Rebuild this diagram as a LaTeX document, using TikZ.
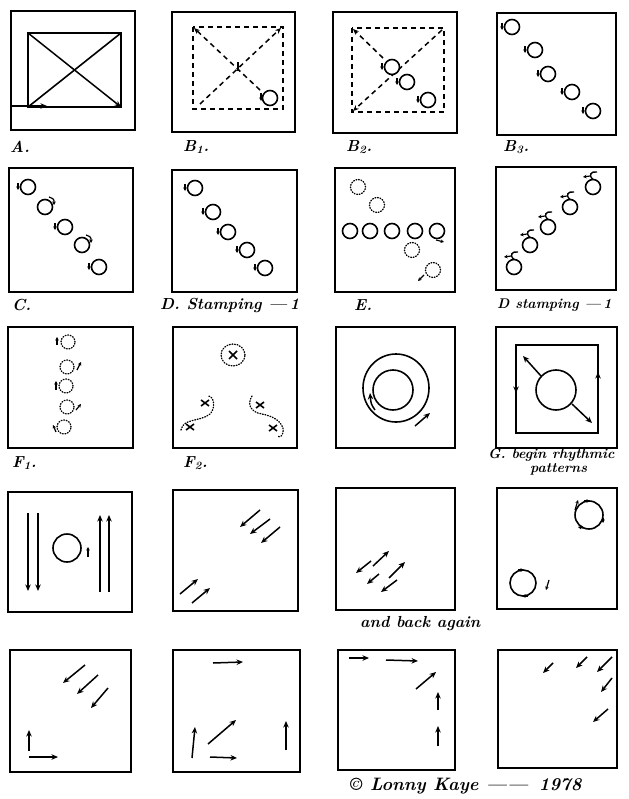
\documentclass[tikz,border=0pt]{standalone}
\usetikzlibrary{arrows.meta}
\tikzset{
  frame/.style={line width=2pt},
  ln/.style={line width=1.6pt},
  arr/.style={line width=1.5pt,-{Stealth[length=6.5pt,width=5.5pt]}},
  sarr/.style={line width=1.2pt,-{Stealth[length=3.5pt,width=3.5pt]}},
  dashl/.style={line width=1.5pt,dash pattern=on 5pt off 4pt},
  dotl/.style={line width=1.3pt,dash pattern=on 0.8pt off 1.8pt,line cap=round},
  lab/.style={font=\fontsize{16}{18}\selectfont\bfseries\itshape,anchor=west,inner sep=0pt},
  slab/.style={lab,font=\fontsize{14}{16}\selectfont\bfseries\itshape},
  ring/.style={line width=1.6pt,fill=white},
}
\begin{document}
\begin{tikzpicture}[x=1pt,y=-1pt]
\useasboundingbox (0,0) rectangle (628,799);
\fill[white] (0,0) rectangle (628,799);

% ---------- Row 1 ----------
% A
\draw[frame] (11,11) rectangle (135,130);
\draw[ln] (28,33) rectangle (121,107);
\draw[ln] (28,107) -- (121,33);
\draw[arr] (28,33) -- (121,107);
\draw[arr] (10,106) -- (47,106);
\node[lab] (lA) at (10,147) {A.};

% B1
\draw[frame] (172,12) rectangle (295,132);
\draw[dashl] (193,27) rectangle (283,109);
\draw[dashl,-{Stealth[length=6pt,width=5pt]}] (200,104) -- (281,28);
\draw[dashl,-{Stealth[length=6pt,width=5pt]}] (260,90) -- (194,28);
\draw[ln] (238,62) -- (238,71);
\draw[ring] (270,98) circle[radius=7.5pt];
\draw[sarr] (261,93) -- (261,101);
\node[lab] (lB1) at (183,147) {B\textsubscript{1}.};

% B2
\draw[frame] (333,12) rectangle (457,133);
\draw[dashl] (352,28) rectangle (444,112);
\draw[dashl,-{Stealth[length=6pt,width=5pt]}] (383,58) -- (353,29);
\draw[dashl,-{Stealth[length=6pt,width=5pt]}] (442,30) -- (353,111);
\foreach \x/\y in {392/67,407/82,428/100}{
  \draw[ring] (\x,\y) circle[radius=7.5pt];
  \draw[sarr] (\x-10,\y-4) -- (\x-10,\y+3);
}
\node[lab] (lB2) at (346,147) {B\textsubscript{2}.};

% B3
\draw[frame] (497,13) rectangle (616,135);
\foreach \x/\y in {512/27,535/50,548/74,572/92,593/111}{
  \draw[ring] (\x,\y) circle[radius=7.5pt];
  \draw[sarr] (\x-10,\y-4) -- (\x-10,\y+3);
}
\node[lab] (lB3) at (503,147) {B\textsubscript{3}.};

% ---------- Row 2 ----------
% C
\draw[frame] (9,168) rectangle (133,292);
\foreach \x/\y in {28/187,65/227,99/267}{
  \draw[ring] (\x,\y) circle[radius=7.5pt];
  \draw[sarr] (\x-10,\y-4) -- (\x-10,\y+3);
}
\foreach \x/\y in {45/207,82/245}{
  \draw[ring] (\x,\y) circle[radius=7.5pt];
  \draw[sarr] (\x+4,\y-10) .. controls (\x+9,\y-8) .. (\x+9,\y-2);
}
\node[lab] (lC) at (12,305) {C.};

% D
\draw[frame] (172,170) rectangle (297,292);
\foreach \x/\y in {195/188,213/212,228/232,247/250,265/268}{
  \draw[ring] (\x,\y) circle[radius=7.5pt];
  \draw[sarr] (\x-10,\y-4) -- (\x-10,\y+3);
}
\node[lab] (lD) at (160,305) {D. Stamping —\,1};

% E
\draw[frame] (335,168) rectangle (455,292);
\foreach \x/\y in {358/187,377/205,412/250,433/270}{
  \draw[dotl] (\x,\y) circle[radius=7.5pt];
}
\foreach \x in {350,370,392,415,437}{
  \draw[ring] (\x,231) circle[radius=7.5pt];
}
\draw[sarr] (436,240) -- (444,242);
\draw[sarr] (424,275) -- (418,281);
\node[lab] (lE) at (354,305) {E.};

% D stamping (second)
\draw[frame] (496,167) rectangle (616,290);
\foreach \x/\y in {514/267,530/245,548/227,570/207,593/187}{
  \draw[ring] (\x,\y) circle[radius=7.5pt];
  \draw[line width=1.4pt] (\x,\y-7.5) .. controls (\x-5,\y-12) and (\x-2,\y-16) .. (\x+4,\y-15);
  \draw[sarr] (\x-3,\y-11) -- (\x-10,\y-10);
}
\node[slab] (lD2) at (497,305) {D stamping —\,1};

% ---------- Row 3 ----------
% F1
\draw[frame] (8,327) rectangle (133,448);
\foreach \x/\y in {68/342,67/367,66/386,67/407,64/427}{
  \draw[dotl] (\x,\y) circle[radius=7pt];
}
\draw[sarr] (57,345) -- (57,337);
\draw[sarr] (77,370) -- (81,362);
\draw[sarr] (56,390) -- (56,381);
\draw[sarr] (76,410) -- (81,404);
\draw[sarr] (56,432) -- (53,425);
\node[lab] (lF1) at (12,463) {F\textsubscript{1}.};

% F2
\draw[frame] (173,327) rectangle (297,448);
\draw[dotl] (233,355) ellipse[x radius=12pt,y radius=11pt];
\draw[ln] (229,351) -- (237,359) (229,359) -- (237,351);
\foreach \x/\y in {205/403,190/427,260/405,273/428}{
  \draw[ln] (\x-4,\y-3) -- (\x+4,\y+3) (\x-4,\y+3) -- (\x+4,\y-3);
}
\draw[dotl] (181,430) .. controls (183,418) and (200,422) .. (210,414)
  .. controls (216,408) and (214,396) .. (208,396);
\draw[dotl] (252,396) .. controls (247,404) and (250,412) .. (262,414)
  .. controls (272,416) and (280,420) .. (283,428) .. controls (284,436) and (280,438) .. (277,436);
\node[lab] (lF2) at (183,463) {F\textsubscript{2}.};

% circle panel
\draw[frame] (336,327) rectangle (455,448);
\draw[ln] (393,390) circle[radius=20pt];
\draw[ln] (396,388) ellipse[x radius=33pt,y radius=34pt];
\draw[arr] (375,410) .. controls (371,404) .. (370,393);
\draw[arr] (415,426) -- (430,413);

% G
\draw[frame] (496,327) rectangle (617,448);
\draw[ln] (516,345) rectangle (598,433);
\draw[ln] (556,390) circle[radius=20pt];
\draw[arr] (541,376) -- (523,356);
\draw[arr] (572,404) -- (592,423);
\draw[arr] (516,375) -- (516,393);
\draw[arr] (598,392) -- (598,372);
\node[slab] (lG) at (488,455) {G. begin rhythmic};
\node[slab] (lG2) at (530,469) {patterns};

% ---------- Row 4 ----------
\draw[frame] (8,492) rectangle (132,612);
\draw[arr] (28,513) -- (28,591);
\draw[arr] (38,513) -- (38,591);
\draw[ln] (67,548) circle[radius=14pt];
\draw[sarr] (88,557) -- (88,547);
\draw[arr] (100,592) -- (100,515);
\draw[arr] (109,592) -- (109,515);

\draw[frame] (173,490) rectangle (298,611);
\draw[arr] (260,510) -- (240,527);
\draw[arr] (270,519) -- (250,534);
\draw[arr] (280,527) -- (261,543);
\draw[arr] (180,594) -- (198,579);
\draw[arr] (192,603) -- (210,588);

\draw[frame] (336,488) rectangle (455,610);
\draw[arr] (371,561) -- (356,573);
\draw[arr] (373,566) -- (389,551);
\draw[arr] (379,574) -- (367,584);
\draw[arr] (389,578) -- (405,562);
\draw[arr] (397,580) -- (381,592);
\node[lab] (lback) at (360,624) {and back again};

\draw[frame] (497,488) rectangle (617,609);
\draw[ln] (589,515) circle[radius=14pt];
\draw[sarr] (584,501) -- (590,501);
\draw[sarr] (603,518) -- (603,523);
\draw[sarr] (583,528) -- (578,527);
\draw[sarr] (575,510) -- (578,500);
\draw[ln] (523,583) circle[radius=13pt];
\draw[sarr] (518,570) -- (524,570);
\draw[sarr] (528,596) -- (522,596);
\draw[sarr] (549,580) -- (546,590);

% ---------- Row 5 ----------
\draw[frame] (10,650) rectangle (131,772);
\draw[arr] (85,665) -- (63,683);
\draw[arr] (98,675) -- (77,694);
\draw[arr] (108,688) -- (91,708);
\draw[arr] (29,751) -- (29,730);
\draw[arr] (29,757) -- (58,757);

\draw[frame] (173,650) rectangle (300,772);
\draw[arr] (213,663) -- (243,662);
\draw[arr] (192,758) -- (195,727);
\draw[arr] (208,744) -- (236,720);
\draw[arr] (210,757) -- (237,758);
\draw[arr] (286,750) -- (286,721);

\draw[frame] (338,650) rectangle (455,770);
\draw[arr] (349,658) -- (369,658);
\draw[arr] (386,660) -- (418,661);
\draw[arr] (416,689) -- (436,672);
\draw[arr] (438,710) -- (438,692);
\draw[arr] (438,746) -- (438,726);

\draw[frame] (498,650) rectangle (617,768);
\draw[arr] (553,663) -- (543,673);
\draw[arr] (587,657) -- (576,668);
\draw[arr] (612,657) -- (597,672);
\draw[arr] (612,678) -- (601,692);
\draw[arr] (608,709) -- (593,722);

\node[lab] (sig) at (350,786) {\fontsize{18}{20}\selectfont\textcopyright\ Lonny Kaye ——\, 1978};
\end{tikzpicture}
\end{document}
